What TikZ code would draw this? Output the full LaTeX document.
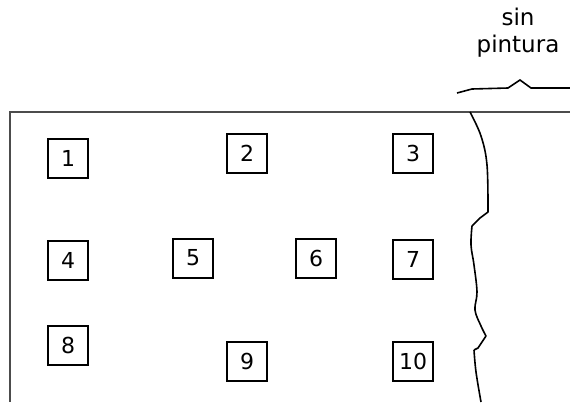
\documentclass[tikz,border=0pt]{standalone}
\usepackage{fontspec}
\setmainfont{DejaVu Sans}
\usepackage{tikz}
\usetikzlibrary{positioning}

\begin{document}
\begin{tikzpicture}[
    x=1pt, y=-1pt,
    numbox/.style={draw, rectangle, line width=2pt, minimum width=40pt,
      minimum height=39pt, inner sep=0pt, font=\fontsize{22}{24}\selectfont},
    edge/.style={line width=2pt, black!70},
    wave/.style={line width=1.6pt, line join=round}
]
\useasboundingbox (0,0) rectangle (570,402);

% plate outline
\coordinate (tl) at (10,112);
\draw[edge] (570,112) -- (tl) -- (10,402);

% numbered specimens
\node[numbox] (n1) at (68,158) {1};
\node[numbox] (n2) at (247,153) {2};
\node[numbox] (n3) at (413,153) {3};
\node[numbox] (n4) at (68,260) {4};
\node[numbox] (n5) at (193,258) {5};
\node[numbox] (n6) at (316,258) {6};
\node[numbox] (n7) at (413,259) {7};
\node[numbox] (n8) at (68,345) {8};
\node[numbox] (n9) at (247,361) {9};
\node[numbox] (n10) at (413,361) {10};

% unpainted zone
\node[align=center, font=\fontsize{23}{27}\selectfont] (label) at (518,33) {sin\\pintura};
\draw[line width=1.6pt] (457,93) -- (472,89) -- (508,88) -- (520,80) -- (531,88) -- (570,88);

% torn edge
\draw[wave] plot[smooth, tension=0.6] coordinates {(470,112) (481,136) (487,165) (488,212)}
  -- (480,218) -- (472,226)
  plot[smooth, tension=0.6] coordinates {(472,226) (471,245) (474,265) (477,292) (475,310) (481,326) (486,336)}
  -- (478,348) -- (474,350)
  plot[smooth, tension=0.6] coordinates {(474,350) (476,372) (481,402)};
\end{tikzpicture}
\end{document}
